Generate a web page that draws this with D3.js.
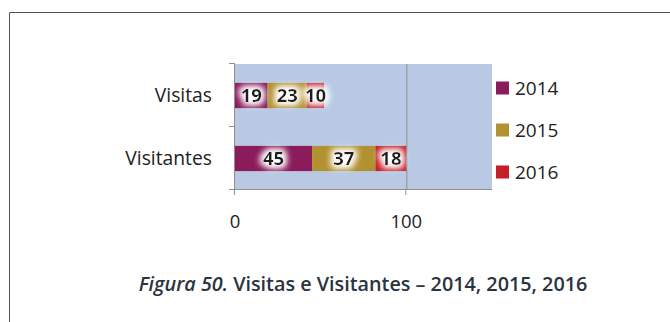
<!DOCTYPE html>
<html>
<head>
<meta charset="utf-8">
<script src="https://cdn.jsdelivr.net/npm/d3@7"></script>
<style>
  html, body { margin: 0; padding: 0; background: #fff; }
  svg { display: block; }
</style>
</head>
<body>
<svg id="chart" width="670" height="322"></svg>
<script>
// Categories (top to bottom) and the stacked values per year
const categories = ["Visitas", "Visitantes"];
const years = ["2014", "2015", "2016"];
const values2014 = [19, 45];
const values2015 = [23, 37];
const values2016 = [10, 18];
const xTicks = [0, 100];
const colors = ["#8c1b5b", "#b29130", "#c41f28"];
const titleItalic = "Figura 50.";
const titleRest = " Visitas e Visitantes – 2014, 2015, 2016";

const FONT = "'Open Sans', 'Noto Sans', sans-serif";
const svg = d3.select("#chart");

// soft white halo behind the value labels
const defs = svg.append("defs");
const glow = defs.append("filter").attr("id", "halo")
  .attr("x", "-50%").attr("y", "-50%").attr("width", "200%").attr("height", "200%");
glow.append("feMorphology").attr("in", "SourceAlpha").attr("operator", "dilate").attr("radius", 2).attr("result", "d");
glow.append("feGaussianBlur").attr("in", "d").attr("stdDeviation", 3.5).attr("result", "b");
glow.append("feFlood").attr("flood-color", "#ffffff").attr("result", "w");
glow.append("feComposite").attr("in", "w").attr("in2", "b").attr("operator", "in").attr("result", "g");
const fm = glow.append("feMerge");
fm.append("feMergeNode").attr("in", "g");
fm.append("feMergeNode").attr("in", "g");
fm.append("feMergeNode").attr("in", "SourceGraphic");

// outer frame
svg.append("path")
  .attr("d", "M9.5,322 L9.5,12.5 L670,12.5")
  .attr("fill", "none").attr("stroke", "#555").attr("stroke-width", 1);

const plot = { left: 235, right: 492, top: 64, bottom: 190 };

const x = d3.scaleLinear().domain([0, 150]).range([plot.left, plot.right]);
const y = d3.scaleBand().domain(categories).range([plot.top, plot.bottom]).paddingInner(0.6).paddingOuter(0.3);
const yFull = d3.scaleBand().domain(categories).range([plot.top, plot.bottom]);

const rows = categories.map((c, i) => ({ cat: c, "2014": values2014[i], "2015": values2015[i], "2016": values2016[i] }));
const stacked = d3.stack().keys(years)(rows);

// plot background
svg.append("rect")
  .attr("x", plot.left).attr("y", plot.top)
  .attr("width", plot.right - plot.left).attr("height", plot.bottom - plot.top)
  .attr("fill", "#b9c9e4");

// vertical gridlines
svg.append("g").selectAll("line").data(xTicks.filter(t => t > 0)).join("line")
  .attr("x1", d => x(d) + 0.5).attr("x2", d => x(d) + 0.5)
  .attr("y1", plot.top).attr("y2", plot.bottom)
  .attr("stroke", "#8f8f8f").attr("stroke-width", 1);

// bars
const layers = svg.append("g").selectAll("g").data(stacked).join("g")
  .attr("fill", (d, i) => colors[i]);
layers.selectAll("rect").data(d => d).join("rect")
  .attr("x", d => x(d[0]))
  .attr("y", d => y(d.data.cat))
  .attr("width", d => x(d[1]) - x(d[0]))
  .attr("height", y.bandwidth());

// value labels
const labels = svg.append("g")
  .attr("font-family", FONT)
  .attr("font-weight", "bold").attr("font-size", 18.5)
  .attr("fill", "#1a1a1a").attr("text-anchor", "middle")
  .attr("filter", "url(#halo)");
stacked.forEach(layer => {
  labels.selectAll(null).data(layer).join("text")
    .attr("x", d => (x(d[0]) + x(d[1])) / 2)
    .attr("y", d => y(d.data.cat) + y.bandwidth() / 2)
    .attr("dy", "0.36em")
    .text(d => d[1] - d[0]);
});

// y axis
const yAxisG = svg.append("g").attr("stroke", "#8f8f8f");
yAxisG.append("line")
  .attr("x1", plot.left - 0.5).attr("x2", plot.left - 0.5)
  .attr("y1", plot.top - 1).attr("y2", plot.bottom);
const yTickPos = [plot.top].concat(categories.map(c => yFull(c) + yFull.bandwidth()));
yAxisG.selectAll(".yt").data(yTickPos).join("line")
  .attr("x1", plot.left - 6).attr("x2", plot.left)
  .attr("y1", d => d - 0.5).attr("y2", d => d - 0.5);

// x axis
const xAxisG = svg.append("g").attr("stroke", "#8f8f8f");
xAxisG.append("line")
  .attr("x1", plot.left - 6).attr("x2", plot.right)
  .attr("y1", plot.bottom - 0.5).attr("y2", plot.bottom - 0.5);
xAxisG.selectAll(".xt").data(xTicks).join("line")
  .attr("x1", d => x(d) - 0.5).attr("x2", d => x(d) - 0.5)
  .attr("y1", plot.bottom).attr("y2", plot.bottom + 5);

// category labels
svg.append("g").selectAll("text").data(categories).join("text")
  .attr("x", 212)
  .attr("y", d => yFull(d) + yFull.bandwidth() / 2)
  .attr("dy", "0.36em")
  .attr("text-anchor", "end")
  .attr("font-family", FONT)
  .attr("font-size", 19.3).attr("fill", "#222")
  .text(d => d);

// x tick labels
svg.append("g").selectAll("text").data(xTicks).join("text")
  .attr("x", d => x(d))
  .attr("y", 228)
  .attr("text-anchor", "middle")
  .attr("font-family", FONT)
  .attr("font-size", 18.5).attr("fill", "#222")
  .text(d => d);

// legend
const legend = svg.append("g").selectAll("g").data(years).join("g")
  .attr("transform", (d, i) => `translate(496, ${88 + i * 42})`);
legend.append("rect")
  .attr("x", 0).attr("y", -6.5).attr("width", 13).attr("height", 13)
  .attr("fill", (d, i) => colors[i]);
legend.append("text")
  .attr("x", 19).attr("y", 0).attr("dy", "0.36em")
  .attr("font-family", FONT)
  .attr("font-size", 19).attr("fill", "#222")
  .text(d => d);

// caption
const title = svg.append("text")
  .attr("x", 363).attr("y", 291)
  .attr("text-anchor", "middle")
  .attr("font-family", FONT)
  .attr("font-weight", 600).attr("font-size", 19.8).attr("fill", "#2a3440");
title.append("tspan").attr("font-style", "italic").text(titleItalic);
title.append("tspan").text(titleRest);
</script>
</body>
</html>
